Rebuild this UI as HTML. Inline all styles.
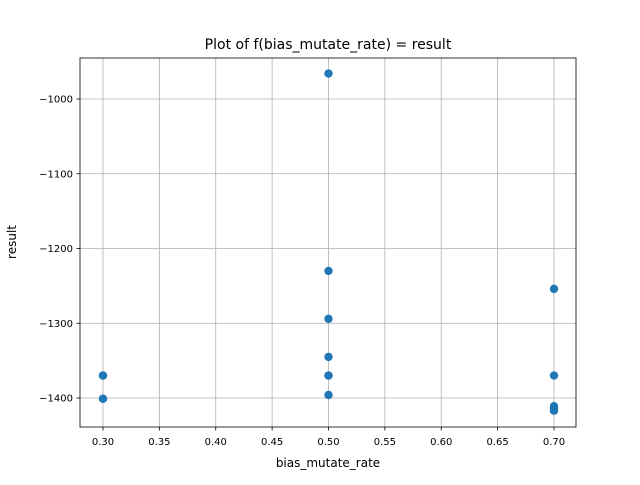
<!DOCTYPE html>
<html><head><meta charset="utf-8"><style>
body{margin:0;background:#fff;width:640px;height:480px;overflow:hidden}
svg{font-family:"DejaVu Sans","Liberation Sans",sans-serif}
</style></head><body>
<svg id="chart" width="640" height="480">
<rect width="640" height="480" fill="#fff"/>
<g id="grid"></g>
<g id="pts"></g>
<rect x="80" y="58" width="496" height="369" fill="none" stroke="#000" stroke-width="0.8"/>
<g id="ticks"></g>
<text x="328" y="49" font-size="14" text-anchor="middle">Plot of f(bias_mutate_rate) = result</text>
<text x="328" y="467" font-size="12" text-anchor="middle">bias_mutate_rate</text>
<text x="16" y="242" font-size="12" text-anchor="middle" transform="rotate(-90 16 242)">result</text>
</svg>
<script>
const xs=[0.5,0.5,0.5,0.5,0.5,0.5,0.5,0.3,0.3,0.3,0.7,0.7,0.7,0.7,0.7];
const ys=[-966,-1230,-1294,-1345,-1370,-1370,-1396,-1370,-1370,-1401,-1254,-1370,-1411,-1414,-1417];
const xTicks=[0.30,0.35,0.40,0.45,0.50,0.55,0.60,0.65,0.70];
const yTicks=[-1000,-1100,-1200,-1300,-1400];
const X=v=>103+(v-0.3)*1127.5;
const Y=v=>99+(-1000-v)*0.7475;
const NS='http://www.w3.org/2000/svg';
const g=document.getElementById('grid'),t=document.getElementById('ticks'),p=document.getElementById('pts');
function mk(tag,a,par){const e=document.createElementNS(NS,tag);for(const k in a)e.setAttribute(k,a[k]);par.appendChild(e);return e;}
xTicks.forEach(v=>{const x=X(v);
const l=mk('line',{x1:x,x2:x,y1:58,y2:427,stroke:'#b0b0b0','stroke-width':0.8},g);


const tk=mk('line',{x1:x,x2:x,y1:427,y2:430.5,stroke:'#000','stroke-width':0.8},t);


const tx=mk('text',{x:x,y:445,'font-size':10,'text-anchor':'middle'},t);tx.textContent=v.toFixed(2);

});
yTicks.forEach(v=>{const y=Y(v);
const l=mk('line',{x1:80,x2:576,y1:y,y2:y,stroke:'#b0b0b0','stroke-width':0.8},g);


const tk=mk('line',{x1:76.5,x2:80,y1:y,y2:y,stroke:'#000','stroke-width':0.8},t);


const tx=mk('text',{x:73,y:y+3.5,'font-size':10,'text-anchor':'end'},t);tx.textContent='\u2212'+Math.abs(v);

});
xs.forEach((v,i)=>{const c=mk('circle',{cx:X(v),cy:Y(ys[i]),r:4.2,fill:'#1f77b4'},p);

});
</script>
</body></html>
